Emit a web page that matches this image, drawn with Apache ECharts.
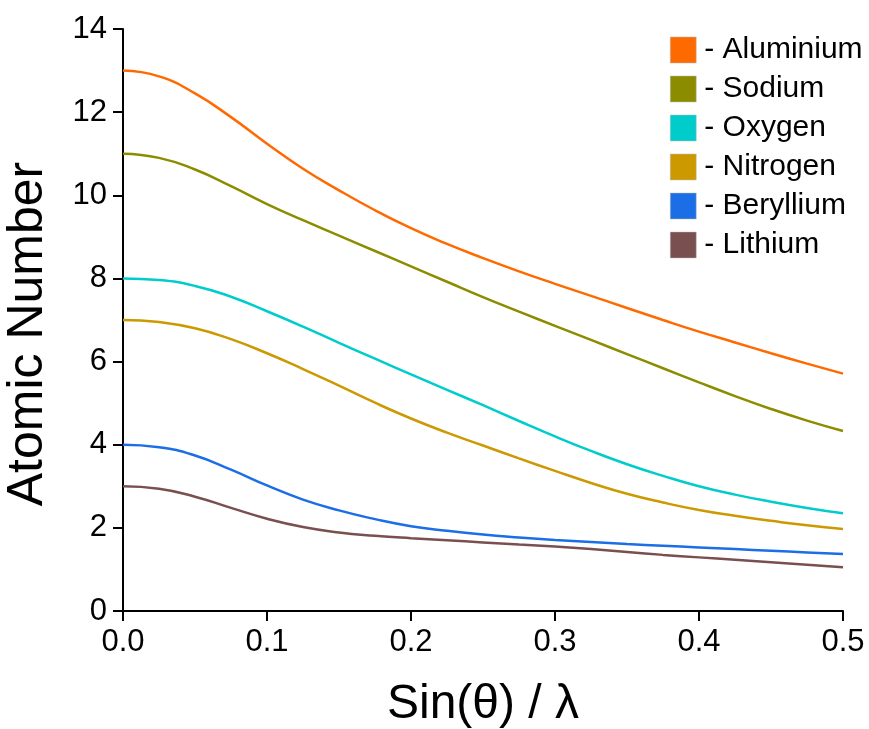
<!DOCTYPE html>
<html>
<head>
<meta charset="utf-8">
<script src="https://cdn.jsdelivr.net/npm/echarts@6/dist/echarts.min.js"></script>
<style>
html,body{margin:0;padding:0;background:#fff;}
#chart{width:869px;height:729px;}
</style>
</head>
<body>
<div id="chart"></div>
<script>
const xValues = [0, 0.025, 0.05, 0.075, 0.1, 0.125, 0.15, 0.175, 0.2, 0.225, 0.25, 0.275, 0.3, 0.325, 0.35, 0.375, 0.4, 0.425, 0.45, 0.475, 0.5];
const seriesNames = ['Aluminium', 'Sodium', 'Oxygen', 'Nitrogen', 'Beryllium', 'Lithium'];
const aluminium = [13.00, 12.86, 12.45, 11.88, 11.24, 10.64, 10.12, 9.64, 9.21, 8.83, 8.49, 8.17, 7.87, 7.58, 7.29, 7.00, 6.72, 6.46, 6.20, 5.95, 5.71];
const sodium    = [11.00, 10.90, 10.62, 10.22, 9.79, 9.40, 9.03, 8.66, 8.29, 7.92, 7.55, 7.20, 6.86, 6.52, 6.18, 5.84, 5.50, 5.17, 4.86, 4.58, 4.33];
const oxygen    = [8.00, 7.96, 7.82, 7.56, 7.21, 6.84, 6.45, 6.07, 5.69, 5.32, 4.95, 4.57, 4.20, 3.85, 3.53, 3.25, 3.00, 2.80, 2.63, 2.48, 2.35];
const nitrogen  = [7.00, 6.95, 6.80, 6.54, 6.20, 5.82, 5.42, 5.01, 4.63, 4.29, 3.98, 3.67, 3.37, 3.08, 2.82, 2.61, 2.43, 2.29, 2.17, 2.06, 1.97];
const beryllium = [4.00, 3.94, 3.74, 3.40, 3.02, 2.68, 2.42, 2.21, 2.04, 1.93, 1.84, 1.77, 1.71, 1.66, 1.61, 1.57, 1.53, 1.49, 1.45, 1.41, 1.37];
const lithium   = [3.00, 2.94, 2.75, 2.48, 2.22, 2.02, 1.89, 1.81, 1.75, 1.70, 1.65, 1.60, 1.55, 1.49, 1.42, 1.35, 1.29, 1.23, 1.17, 1.11, 1.05];
const seriesValues = [aluminium, sodium, oxygen, nitrogen, beryllium, lithium];
const colors = ['#FF6A00', '#8C8C00', '#00CCCC', '#CC9900', '#1C6EE6', '#7A4F4F'];
const xTicks = [0, 0.1, 0.2, 0.3, 0.4, 0.5];
const yTicks = [0, 2, 4, 6, 8, 10, 12, 14];

const FONT = 'Liberation Sans, Arial, sans-serif';
const chart = echarts.init(document.getElementById('chart'), null, {renderer: 'canvas'});

const series = seriesNames.map((name, i) => ({
  name: name,
  type: 'line',
  smooth: 0.5,
  showSymbol: false,
  symbol: 'none',
  color: colors[i],
  lineStyle: {width: 2.5, color: colors[i]},
  itemStyle: {color: colors[i]},
  data: xValues.map((x, j) => [x, seriesValues[i][j]])
}));

chart.setOption({
  backgroundColor: '#ffffff',
  animation: false,
  grid: {left: 123, right: 26, top: 29, bottom: 118, containLabel: false, outerBoundsMode: 'none'},
  legend: {
    data: seriesNames,
    orient: 'vertical',
    left: 670,
    top: 35,
    padding: 0,
    icon: 'rect',
    itemWidth: 26,
    itemHeight: 26,
    itemGap: 9,
    itemStyle: {borderColor: '#bbbbbb', borderWidth: 0.5},
    formatter: n => '- ' + n,
    textStyle: {fontFamily: FONT, fontSize: 30, color: '#000', lineHeight: 26, padding: [0, 0, 0, 3]}
  },
  xAxis: {
    type: 'value',
    min: xTicks[0],
    max: xTicks[xTicks.length - 1],
    interval: 0.1,
    name: 'Sin(θ) / λ',
    nameLocation: 'middle',
    nameGap: 70,
    nameTextStyle: {fontFamily: FONT, fontSize: 48, color: '#000'},
    axisLine: {show: true, lineStyle: {color: '#000', width: 2}},
    axisTick: {show: true, length: 10, lineStyle: {color: '#000', width: 2}},
    axisLabel: {fontFamily: FONT, fontSize: 31, color: '#000', margin: 16, formatter: v => v.toFixed(1)},
    splitLine: {show: false}
  },
  yAxis: {
    type: 'value',
    min: yTicks[0],
    max: yTicks[yTicks.length - 1],
    interval: 2,
    name: 'Atomic Number',
    nameLocation: 'middle',
    nameGap: 70,
    nameTextStyle: {fontFamily: FONT, fontSize: 50, color: '#000', padding: [0, 28, 0, 0]},
    axisLine: {show: true, lineStyle: {color: '#000', width: 2}},
    axisTick: {show: true, length: 10, lineStyle: {color: '#000', width: 2}},
    axisLabel: {fontFamily: FONT, fontSize: 31, color: '#000', margin: 16},
    splitLine: {show: false}
  },
  series: series
});
</script>
</body>
</html>
